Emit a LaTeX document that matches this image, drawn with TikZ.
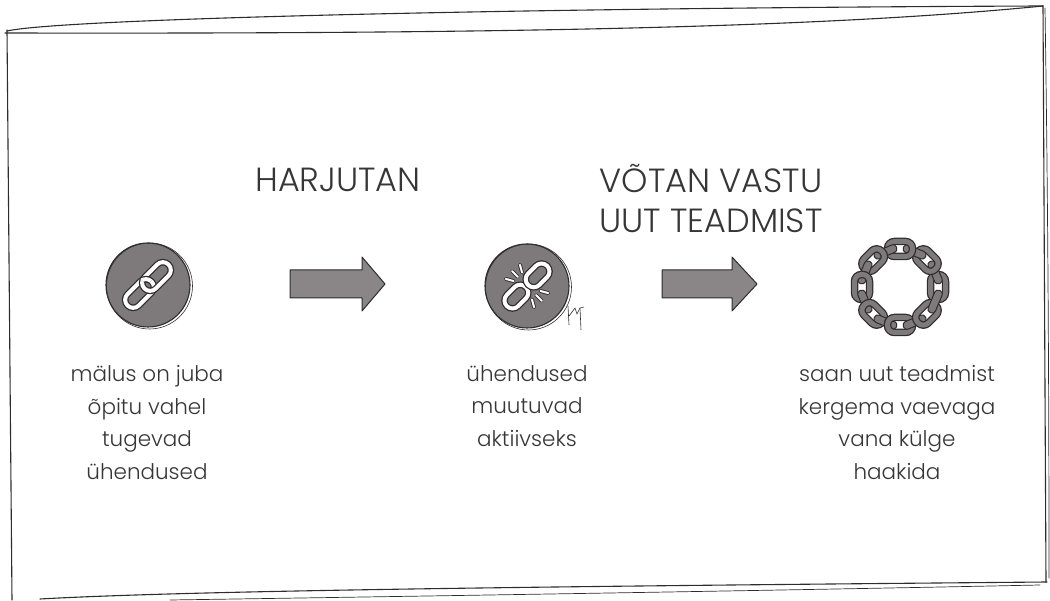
\documentclass[tikz,border=0pt]{standalone}
\usepackage{fontspec}
\setmainfont{Poppins Light}
\usepackage{xcolor}
\usetikzlibrary{arrows.meta, positioning}

\definecolor{inkgray}{HTML}{2E2C2D}
\definecolor{iconfill}{HTML}{7E797A}
\definecolor{arrowfill}{HTML}{8A8587}
\definecolor{textgray}{HTML}{363636}

\begin{document}
\begin{tikzpicture}[x=1pt, y=1pt,
  every node/.style={font=\fontsize{21.5}{32.5}\selectfont, text=textgray, align=center},
  heading/.style={font=\fontsize{33.5}{40}\selectfont},
  caption/.style={anchor=north},
  sketch/.style={draw=inkgray, line width=1.1pt, line cap=round},
  badge/.style={circle, fill=iconfill, minimum size=84pt, inner sep=0pt},
  fatarrow/.style={fill=arrowfill, draw=inkgray, line width=1pt, line join=round},
  linkout/.style={draw=inkgray, line width=6.5pt, rounded corners=8pt},
  linkin/.style={draw=white, line width=4pt, rounded corners=8pt}
]
\useasboundingbox (0,0) rectangle (1050,600);

% hand drawn frame, every edge stroked twice
\draw[sketch] (7,569) .. controls (60,581) and (500,592) .. (1043,594);
\draw[sketch] (5,567) .. controls (500,566) and (820,572) .. (1043,594);
\draw[sketch] (7,570) -- (12,0);
\draw[sketch] (1043,594) -- (1046,18);
\draw[sketch, line width=0.7pt] (1045,592) .. controls (1048,400) and (1049,200) .. (1049,22);
\draw[sketch] (40,1) .. controls (200,10) and (600,14) .. (1047,18);
\draw[sketch, line width=0.7pt] (170,0) .. controls (500,5) and (800,10) .. (1040,15);

% badges
\node[badge] (mem) at (148,315) {};
\node[badge] (broken) at (527,314) {};
\coordinate (ring) at (900,313);
\foreach \c in {mem,broken}{
  \draw[sketch] (\c.center) circle (42);
  \draw[sketch, line width=0.6pt] ([shift={(1.5,-1)}]\c.center) circle (43);
}

% two linked links
\begin{scope}[shift={(mem.center)}, rotate=45]
  \foreach \d in {-12,12}{
    \draw[linkout] (\d-17,-8) rectangle (\d+17,8);
    \draw[linkin] (\d-17,-8) rectangle (\d+17,8);
  }
  \begin{scope}
    \clip (-1,1) rectangle (11,13);
    \draw[linkout] (-29,-8) rectangle (5,8);
    \draw[linkin] (-29,-8) rectangle (5,8);
  \end{scope}
\end{scope}

% links pulled apart, with sparks
\begin{scope}[shift={(broken.center)}, rotate=45]
  \foreach \d in {-15,15}{
    \draw[linkout] (\d-13.5,-8) rectangle (\d+13.5,8);
    \draw[linkin] (\d-13.5,-8) rectangle (\d+13.5,8);
  }
  \foreach \s in {1,-1}{
    \foreach \from/\to in {{(-6,13*\s)}/{(-10,20*\s)}, {(0,13*\s)}/{(0,21*\s)}, {(6,13*\s)}/{(10,20*\s)}}{
      \draw[inkgray, line width=3.8pt, line cap=round] \from -- \to;
      \draw[white, line width=2pt, line cap=round] \from -- \to;
    }
  }
\end{scope}
% initials
\draw[inkgray, line width=0.6pt] (568,294) -- (569,275);
\draw[inkgray, line width=0.6pt] (569,284) -- (575,292) -- (577,286) -- (580,292) -- (584,293);
\draw[inkgray, line width=0.6pt] (580,292) -- (581,270);

% closed chain
\foreach \i [evaluate=\i as \a using \i*360/16] in {0,...,15}{
  \begin{scope}[shift={(ring)}, rotate=\a, shift={(38,0)}]
    \ifodd\i
      \filldraw[fill=iconfill, draw=inkgray, line width=1pt, rounded corners=3.5pt] (-4,-12) rectangle (4,12);
    \else
      \draw[inkgray, line width=7.5pt, rounded corners=7pt] (-7.5,-12.5) rectangle (7.5,12.5);
      \draw[iconfill, line width=5pt, rounded corners=7pt] (-7.5,-12.5) rectangle (7.5,12.5);
    \fi
  \end{scope}
}

% arrows between stages
\draw[fatarrow] (290,302) -- (362,302) -- (362,289) -- (385,316) -- (362,343) -- (362,330) -- (290,330) -- cycle;
\draw[fatarrow] (662,302) -- (732,302) -- (732,289) -- (757,316) -- (732,343) -- (732,330) -- (662,330) -- cycle;

% headings
\node[heading] (practice) at (338,420) {HARJUTAN};
\node[heading] (receive) at (711,401) {VÕTAN VASTU\\UUT TEADMIST};

% captions
\node[caption] (memtext) at (147,238) {mälus on juba\\õpitu vahel\\tugevad\\ühendused};
\node[caption] (brokentext) at (527,238) {ühendused\\muutuvad\\aktiivseks};
\node[caption] (ringtext) at (897,238) {saan uut teadmist\\kergema vaevaga\\vana külge\\haakida};
\end{tikzpicture}
\end{document}
